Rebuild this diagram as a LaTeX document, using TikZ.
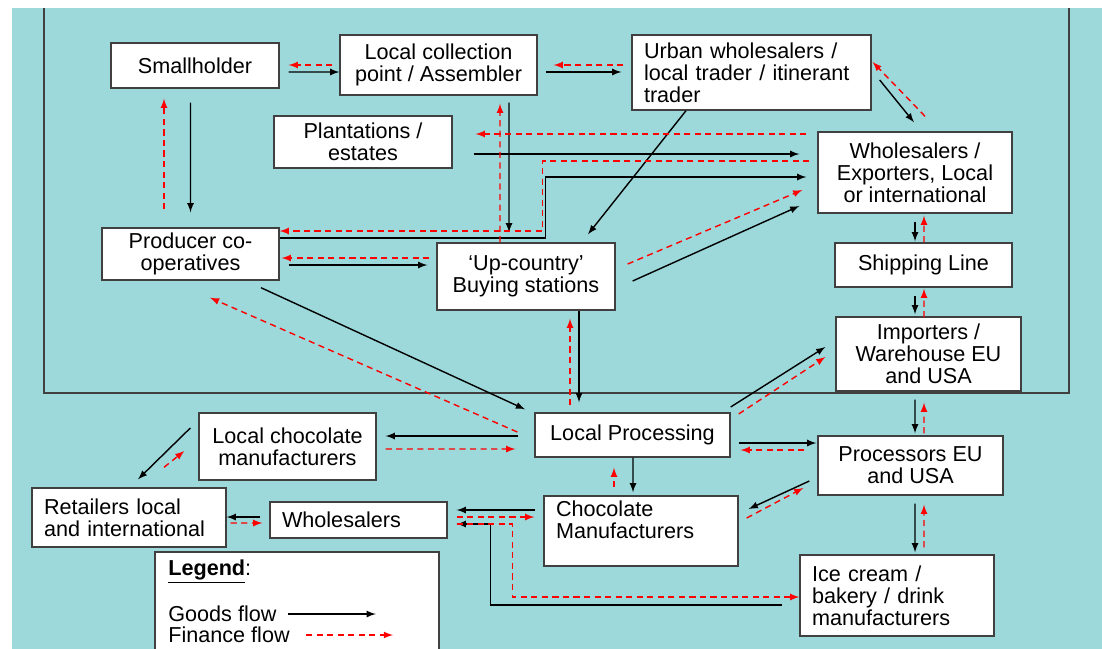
\documentclass[tikz,border=0pt]{standalone}
\usepackage{fontspec}
\setmainfont{Liberation Sans}
\usetikzlibrary{calc}
\definecolor{bgcyan}{RGB}{157,217,219}

\begin{document}
\begin{tikzpicture}[
    x=0.02cm, y=-0.02cm,
    font=\fontsize{12.3}{12.5}\selectfont,
    box/.style={rectangle, draw=black!75, line width=0.8pt, fill=white, inner ysep=1pt, align=center},
    lbox/.style={box, align=left, inner xsep=0.24cm},
    goods/.style={thick,->,>=latex},
    finance/.style={thick,->,>=latex,red,dash pattern=on 3.5pt off 2.5pt}
]
    \clip (0,0) rectangle (1102,649);
    \fill[bgcyan] (12,8) rectangle (1102,649);
    \draw[black!75, line width=0.8pt] (44,8) -- (44,393) -- (1069,393) -- (1069,8);

    \node[box, minimum width=3.36cm, minimum height=0.9cm] (small) at (195,65.5) {Smallholder};
    \node[box, minimum width=3.94cm, minimum height=1.2cm] (collect) at (438.5,65) {Local collection\\point / Assembler};
    \node[lbox, text width=4.30cm, minimum height=1.5cm] (urban) at (751.5,72.5) {Urban wholesalers /\\local trader / itinerant\\trader};
    \node[box, minimum width=3.56cm, minimum height=1.04cm] (plant) at (363,142) {Plantations /\\estates};
    \node[box, minimum width=3.88cm, minimum height=1.62cm] (whole) at (915,172.5) {Wholesalers /\\Exporters, Local\\or international};
    \node[box, minimum width=3.54cm, minimum height=1.04cm] (coop) at (190.5,254) {Producer co-\\operatives};
    \node[box, minimum width=3.56cm, minimum height=1.34cm] (upc) at (526,276.5) {‘Up-country’\\Buying stations};
    \node[box, minimum width=3.54cm, minimum height=0.88cm] (ship) at (923.5,265) {Shipping Line};
    \node[box, minimum width=3.70cm, minimum height=1.48cm] (import) at (928.5,354) {Importers /\\Warehouse EU\\and USA};
    \node[box, minimum width=3.54cm, minimum height=1.34cm] (lchoc) at (287.5,446.5) {Local chocolate\\manufacturers};
    \node[box, minimum width=3.90cm, minimum height=0.88cm] (lproc) at (632.5,435) {Local Processing};
    \node[box, minimum width=3.70cm, minimum height=1.18cm] (proc) at (910.5,465.5) {Processors EU\\and USA};
    \node[lbox, text width=3.40cm, minimum height=1.18cm] (retail) at (129,517.5) {Retailers local\\and international};
    \node[lbox, text width=3.06cm, minimum height=0.72cm] (wsale) at (358.5,520) {Wholesalers};
    \node[lbox, text width=3.40cm, minimum height=1.40cm] (choc) at (641,531) {Chocolate\\Manufacturers\\\mbox{}};
    \node[lbox, text width=3.40cm, minimum height=1.62cm] (ice) at (897,595.5) {Ice cream /\\bakery / drink\\manufacturers};

    % Legend
    \node[box, minimum width=5.68cm, minimum height=2.16cm] (legend) at (297,606) {};
    \node[anchor=base west, inner sep=0] (legtitle) at (168,575) {\textbf{\underline{Legend}}:};
    \node[anchor=base west, inner sep=0] (goodtxt) at (168,621) {Goods flow};
    \node[anchor=base west, inner sep=0] (fintxt) at (168,642) {Finance flow};
    \draw[goods] ($(goodtxt.base east)+(11,-7)$) -- ++(88,0);
    \draw[finance] ($(fintxt.base east)+(16,-7)$) -- ++(87,0);

    % Goods flow
    \draw[goods] ($(small.east)+(9,6.5)$) -- ($(collect.west)+(0,7)$);
    \draw[goods] ($(collect.east)+(8,7)$) -- ($(urban.west)+(-10,-0.5)$);
    \draw[goods] ($(small.south)+(-4.5,14)$) -- ($(coop.north)+(0,-15)$);
    \draw[goods] ($(collect.south)+(70.5,7)$) -- ($(upc.north)+(-17,-10)$);
    \draw[goods] ($(plant.east)+(21,12)$) -- ($(whole.west)+(-18,-18.5)$);
    \draw[goods] ($(coop.east)+(0,-16)$) -- ++(266,0) |- ($(whole.west)+(-11,4.5)$);
    \draw[goods] ($(coop.east)+(9,11)$) -- ($(upc.west)+(-9,-11.5)$);
    \draw[goods] ($(urban.south)+(-65.5,0)$) -- ($(upc.north)+(62,-8)$);
    \draw[goods] ($(upc.east)+(17,4.5)$) -- ($(whole.west)+(-18,33.5)$);
    \draw[goods] ($(urban.east)+(8,7.5)$) -- ($(whole.north)+(-1,-9)$);
    \draw[goods] ($(whole.south)+(0,8)$) -- ($(ship.north)+(-8.5,-1)$);
    \draw[goods] ($(ship.south)+(-8.5,8)$) -- ($(import.north)+(-13.5,-2)$);
    \draw[goods] ($(import.south)+(-13.5,8)$) -- ($(proc.north)+(4.5,-2)$);
    \draw[goods] ($(coop.south)+(70.5,7)$) -- ($(lproc.north)+(-107.5,-3)$);
    \draw[goods] ($(upc.south)+(53,0)$) -- ($(lproc.north)+(-53.5,-10)$);
    \draw[goods] ($(lproc.east)+(0,-28)$) -- ($(import.west)+(-10,-7)$);
    \draw[goods] ($(lproc.east)+(8,8)$) -- ($(proc.west)+(-1,-22.5)$);
    \draw[goods] ($(proc.west)+(-8,15.5)$) -- ($(choc.east)+(10,-22)$);
    \draw[goods] ($(lproc.south)+(0.5,0)$) -- ($(choc.north)+(-8,-3)$);
    \draw[goods] ($(proc.south)+(4.5,8)$) -- ($(ice.north)+(18,-2)$);
    \draw[goods] ($(lproc.west)+(-16,1)$) -- ($(lchoc.east)+(9,-10.5)$);
    \draw[goods] ($(lchoc.west)+(-8,-18.5)$) -- ($(retail.north)+(9,-8)$);
    \draw[goods] ($(wsale.west)+(-9,-3)$) -- ($(retail.east)+(0,-0.5)$);
    \draw[goods] ($(choc.west)+(-8,-21)$) -- ($(wsale.east)+(9,-10)$);
    \draw[goods] ($(ice.west)+(-17,9.5)$) -- ++(-292,0) |- ($(wsale.east)+(9,4)$);

    % Finance flow
    \draw[finance] ($(collect.west)+(-7,0)$) -- ($(small.east)+(9,-0.5)$);
    \draw[finance] ($(urban.west)+(-8,-7.5)$) -- ($(collect.east)+(16,0)$);
    \draw[finance] ($(coop.north)+(-26.5,-18)$) -- ($(small.south)+(-31,10)$);
    \draw[finance] ($(upc.north)+(-26,0)$) -- ($(collect.south)+(61.5,8)$);
    \draw[finance] ($(whole.west)+(-11,-38.5)$) -- ($(plant.east)+(23,-8)$);
    \draw[finance] ($(whole.west)+(-8,-11.5)$) -- ++(-267,0) |- ($(coop.east)+(0,-23)$);
    \draw[finance] ($(upc.west)+(-7,-18.5)$) -- ($(coop.east)+(2,4)$);
    \draw[finance] ($(upc.east)+(12,-12.5)$) -- ($(whole.west)+(-15,17.5)$);
    \draw[finance] ($(whole.north)+(10,-15)$) -- ($(urban.east)+(1,-10.5)$);
    \draw[finance] ($(ship.north)+(0.5,0)$) -- ($(whole.south)+(9,2)$);
    \draw[finance] ($(import.north)+(-4.5,1)$) -- ($(ship.south)+(0.5,1)$);
    \draw[finance] ($(proc.north)+(13.5,-2)$) -- ($(import.south)+(-4.5,11)$);
    \draw[finance] ($(lproc.west)+(-17,-3)$) -- ($(coop.south)+(19.5,17)$);
    \draw[finance] ($(lproc.north)+(-62.5,-7)$) -- ($(upc.south)+(44,8)$);
    \draw[finance] ($(lproc.east)+(8,-21)$) -- ($(import.west)+(-10,3)$);
    \draw[finance] ($(proc.west)+(-13,-15.5)$) -- ($(lproc.east)+(10,15)$);
    \draw[finance] ($(choc.east)+(8,-13)$) -- ($(proc.west)+(-14,22.5)$);
    \draw[finance] ($(choc.north)+(-27,-8)$) -- ($(lproc.south)+(-18.5,10)$);
    \draw[finance] ($(ice.north)+(27,-7)$) -- ($(proc.south)+(13.5,9)$);
    \draw[finance] ($(lchoc.east)+(9,2.5)$) -- ($(lproc.west)+(-19,14)$);
    \draw[finance] ($(retail.north)+(35,-20)$) -- ($(lchoc.west)+(-14,4.5)$);
    \draw[finance] ($(retail.east)+(4,5.5)$) -- ($(wsale.west)+(-7,3)$);
    \draw[finance] ($(wsale.east)+(9,-3)$) -- ($(choc.west)+(-9,-14)$);
    \draw[finance] ($(wsale.east)+(9,4)$) -- ++(56,0) |- ($(ice.west)+(0,1.5)$);
\end{tikzpicture}
\end{document}
